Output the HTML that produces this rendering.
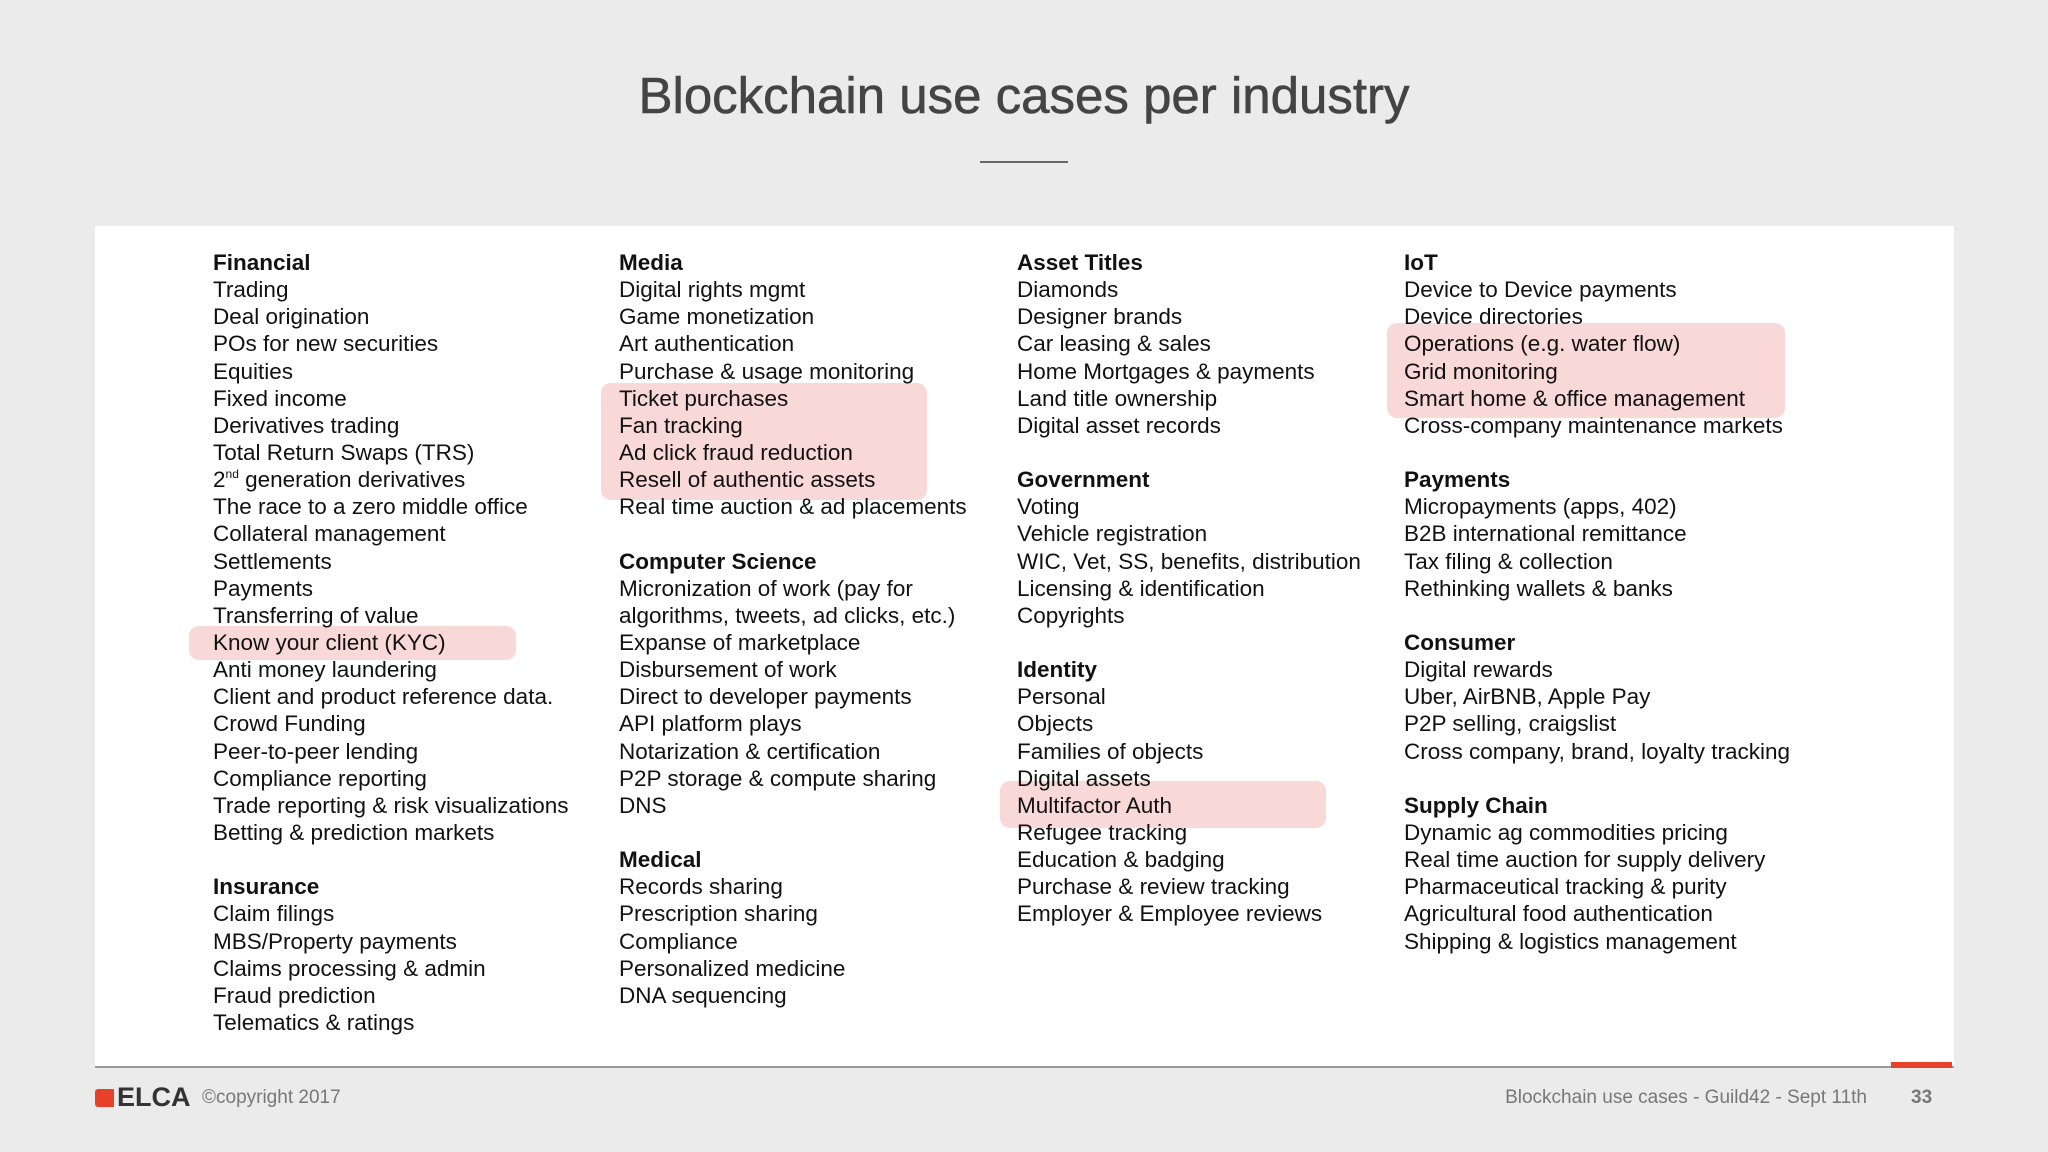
<!DOCTYPE html>
<html><head><meta charset="utf-8"><style>
body{margin:0;width:2048px;height:1152px;background:#ebebeb;position:relative;overflow:hidden;font-family:"Liberation Sans",sans-serif;color:#222}
.abs{position:absolute}
#title{left:0;width:2048px;top:66px;text-align:center;font-size:51px;color:#444;-webkit-text-stroke:0.6px #444}
#panel{left:95px;top:226px;width:1859px;height:840px;background:#fff}
.hl{background:#f9d8d8;border-radius:10px}
.ln{position:absolute;font-size:22.5px;line-height:27px;white-space:nowrap;color:#111}
.ln sup{font-size:12px;line-height:0;vertical-align:9px}
.hd{font-weight:bold}
</style></head><body>
<div id="title" class="abs">Blockchain use cases per industry</div>
<div class="abs" style="left:980px;top:161px;width:88px;height:2px;background:#666"></div>
<div id="panel" class="abs"></div>
<div class="abs hl" style="left:601px;top:383px;width:326px;height:117px"></div>
<div class="abs hl" style="left:189px;top:626px;width:327px;height:34px"></div>
<div class="abs hl" style="left:1387px;top:323px;width:398px;height:95px"></div>
<div class="abs hl" style="left:1000px;top:781px;width:326px;height:47px"></div>
<div id="cols"></div>
<div class="abs" style="left:95px;top:1066px;width:1859px;height:2px;background:#999"></div>
<div class="abs" style="left:1891px;top:1062px;width:61px;height:6px;background:#e8412b"></div>
<div class="abs" style="left:95px;top:1089px;width:19px;height:18px;background:#e8412b;border-radius:3px 0 0 3px"></div>
<div class="abs" style="left:117px;top:1082px;font-size:27px;font-weight:bold;color:#333">ELCA</div>
<div class="abs" style="left:202px;top:1087px;font-size:19px;color:#777">©copyright 2017</div>
<div class="abs" style="right:181px;top:1087px;font-size:19px;color:#777">Blockchain use cases - Guild42 - Sept 11th</div>
<div class="abs" style="left:1911px;top:1087px;font-size:19px;color:#777;font-weight:bold">33</div>
<script>
const cols=[
 {x:213,items:[["Financial",0],"Trading","Deal origination","POs for new securities","Equities","Fixed income","Derivatives trading","Total Return Swaps (TRS)","2<sup>nd</sup> generation derivatives","The race to a zero middle office","Collateral management","Settlements","Payments","Transferring of value","Know your client (KYC)","Anti money laundering","Client and product reference data.","Crowd Funding","Peer-to-peer lending","Compliance reporting","Trade reporting & risk visualizations","Betting & prediction markets","",["Insurance",0],"Claim filings","MBS/Property payments","Claims processing & admin","Fraud prediction","Telematics & ratings"]},
 {x:619,items:[["Media",0],"Digital rights mgmt","Game monetization","Art authentication","Purchase & usage monitoring","Ticket purchases","Fan tracking","Ad click fraud reduction","Resell of authentic assets","Real time auction & ad placements","",["Computer Science",0],"Micronization of work (pay for","algorithms, tweets, ad clicks, etc.)","Expanse of marketplace","Disbursement of work","Direct to developer payments","API platform plays","Notarization & certification","P2P storage & compute sharing","DNS","",["Medical",0],"Records sharing","Prescription sharing","Compliance","Personalized medicine","DNA sequencing"]},
 {x:1017,items:[["Asset Titles",0],"Diamonds","Designer brands","Car leasing & sales","Home Mortgages & payments","Land title ownership","Digital asset records","",["Government",0],"Voting","Vehicle registration","WIC, Vet, SS, benefits, distribution","Licensing & identification","Copyrights","",["Identity",0],"Personal","Objects","Families of objects","Digital assets","Multifactor Auth","Refugee tracking","Education & badging","Purchase & review tracking","Employer & Employee reviews"]},
 {x:1404,items:[["IoT",0],"Device to Device payments","Device directories","Operations (e.g. water flow)","Grid monitoring","Smart home & office management","Cross-company maintenance markets","",["Payments",0],"Micropayments (apps, 402)","B2B international remittance","Tax filing & collection","Rethinking wallets & banks","",["Consumer",0],"Digital rewards","Uber, AirBNB, Apple Pay","P2P selling, craigslist","Cross company, brand, loyalty tracking","",["Supply Chain",0],"Dynamic ag commodities pricing","Real time auction for supply delivery","Pharmaceutical tracking & purity","Agricultural food authentication","Shipping & logistics management"]}
];
const host=document.getElementById('cols');
cols.forEach((c,ci)=>{c.items.forEach((it,i)=>{
 if(it==="")return;
 const d=document.createElement('div');
 d.className='ln';
 const hd=Array.isArray(it);
 if(hd)d.classList.add('hd');
 d.innerHTML=(hd?it[0]:it).replace(/&(?![a-z]+;)/g,'&amp;');
 d.style.left=c.x+'px';
 d.style.top=(249+i*27.14)+'px';
 
 
 host.appendChild(d);
});});
</script>
</body></html>
